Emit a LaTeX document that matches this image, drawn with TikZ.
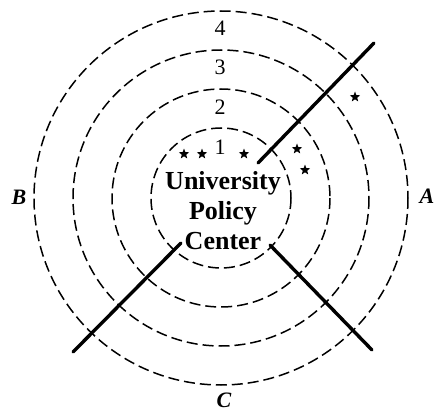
\documentclass[tikz,border=0pt]{standalone}
\usepackage{fontspec}
\setmainfont{Liberation Serif}
\usetikzlibrary{shapes.geometric}
\tikzset{
  ring/.style={draw, dash pattern=on 11pt off 5pt, line width=1.5pt},
  road/.style={line width=3.4pt, line cap=round},
  starmark/.style={star, star points=5, star point ratio=2.4,
    fill=black, inner sep=0pt, minimum size=11pt},
  ringlabel/.style={font=\fontsize{22}{22}\selectfont},
  sector/.style={inner sep=1pt, font=\fontsize{22}{22}\selectfont\bfseries\itshape},
  hub/.style={align=center, inner sep=0pt,
    font=\fontsize{26}{30}\selectfont\bfseries},
}

\begin{document}
\begin{tikzpicture}[x=1pt, y=-1pt]
  \useasboundingbox (0,0) rectangle (437,412);

  % Rings round the centre
  \coordinate (o) at (221,198);
  \foreach \r in {70,109,148,187}
    \draw[ring] (o) circle[radius=\r];

  % Ring numbers
  \node[ringlabel] (r1) at (220,147) {1};
  \node[ringlabel] (r2) at (220,107) {2};
  \node[ringlabel] (r3) at (220,67)  {3};
  \node[ringlabel] (r4) at (220,28)  {4};

  % Centre
  \node[hub] (upc) at (223,211) {University\\Policy\\Center};

  % Sector boundaries
  \coordinate (ab-in)  at (258,163);
  \coordinate (ab-out) at (374,43);
  \coordinate (bc-in)  at (181,243);
  \coordinate (bc-out) at (73,352);
  \coordinate (ca-in)  at (270,245);
  \coordinate (ca-out) at (372,350);
  \draw[road] (ab-in) -- (ab-out);
  \draw[road] (bc-in) -- (bc-out);
  \draw[road] (ca-in) -- (ca-out);

  % Sector names
  \node[sector] (A) at (427,196) {A};
  \node[sector] (B) at (19,197)  {B};
  \node[sector] (C) at (224,400) {C};

  % Stars
  \foreach \p [count=\i] in {(184,154),(202,154),(244,154),(297,149),(305,170),(355,97)}
    \node[starmark] (s\i) at \p {};

\end{tikzpicture}
\end{document}
